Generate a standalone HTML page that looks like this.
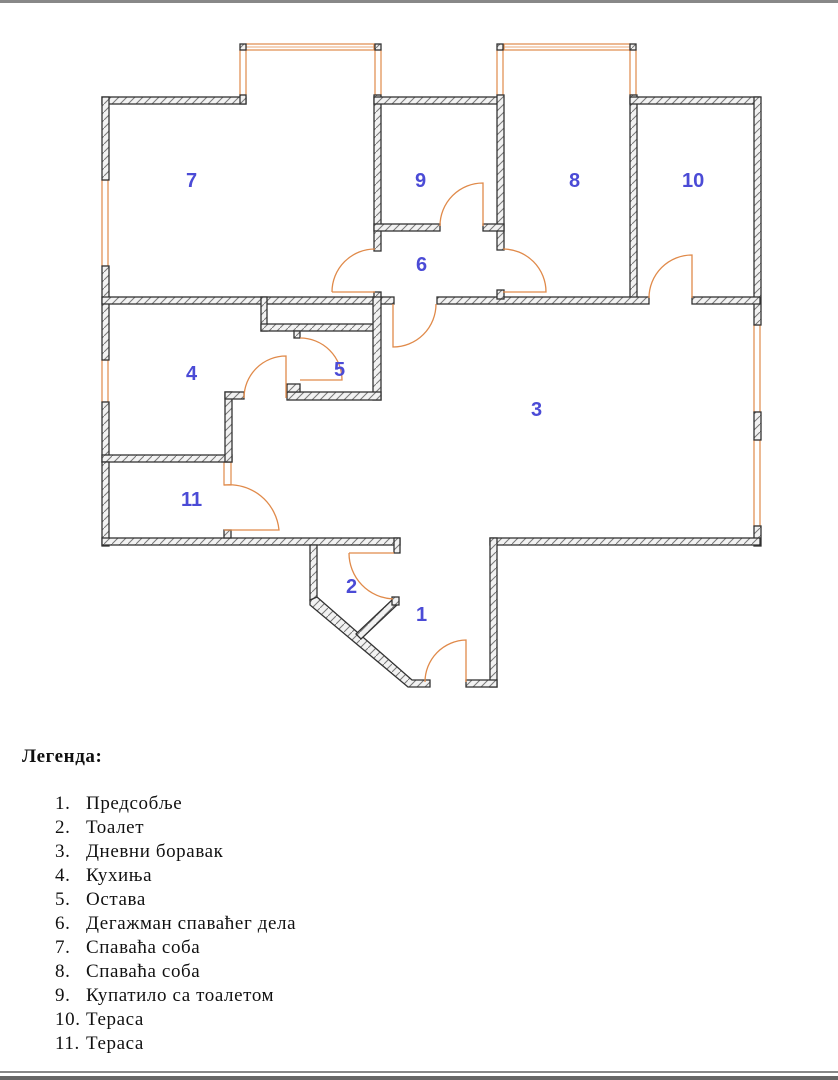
<!DOCTYPE html>
<html><head><meta charset="utf-8"><style>
body{margin:0;background:#fff;width:838px;height:1080px;overflow:hidden}
svg{position:absolute;left:0;top:0}
.w{fill:url(#h);stroke:#333;stroke-width:1.3}
.win{fill:#fff;stroke:#e08a4a;stroke-width:1.2}
.d{fill:none;stroke:#e08a4a;stroke-width:1.3}
.n{font-family:"Liberation Sans",sans-serif;font-size:20px;font-weight:bold;fill:#4b4bd6}
.lg{font-family:"Liberation Serif",serif;font-size:19px;letter-spacing:0.6px;fill:#111}
</style></head><body>
<svg width="838" height="1080" viewBox="0 0 838 1080">
<defs><pattern id="h" width="8" height="8" patternUnits="userSpaceOnUse">
<rect width="8" height="8" fill="#f2f2f2"/><path d="M0 8L8 0" stroke="#777" stroke-width="1"/></pattern></defs>
<rect x="0" y="0" width="838" height="3" fill="#888"/>
<rect x="0" y="1071" width="838" height="2" fill="#888"/><rect x="0" y="1076" width="838" height="4" fill="#666"/>
<!-- windows -->
<rect class="win" x="246" y="44" width="128" height="6"/><line x1="246" y1="47" x2="374" y2="47" stroke="#e08a4a" stroke-width="0.8"/>
<rect class="win" x="240" y="50" width="6" height="45"/>
<rect class="win" x="375" y="50" width="6" height="45"/>
<rect class="win" x="504" y="44" width="126" height="6"/><line x1="504" y1="47" x2="630" y2="47" stroke="#e08a4a" stroke-width="0.8"/>
<rect class="win" x="497" y="50" width="6" height="45"/>
<rect class="win" x="630" y="50" width="6" height="45"/>
<rect class="win" x="102" y="180" width="6" height="86"/>
<rect class="win" x="102" y="360" width="6" height="42"/>
<rect class="win" x="754" y="325" width="6" height="87"/>
<rect class="win" x="754" y="440" width="6" height="86"/>
<rect class="win" x="224" y="462" width="7" height="23"/>
<!-- walls -->
<rect class="w" x="240" y="44" width="6" height="6"/><rect class="w" x="375" y="44" width="6" height="6"/>
<rect class="w" x="497" y="44" width="6" height="6"/><rect class="w" x="630" y="44" width="6" height="6"/>
<rect class="w" x="102" y="97" width="144" height="7"/>
<rect class="w" x="240" y="95" width="6" height="9"/>
<rect class="w" x="102" y="97" width="7" height="83"/>
<rect class="w" x="102" y="266" width="7" height="94"/>
<rect class="w" x="102" y="402" width="7" height="60"/>
<rect class="w" x="374" y="95" width="7" height="156"/>
<rect class="w" x="374" y="97" width="129" height="7"/>
<rect class="w" x="497" y="95" width="7" height="155"/>
<rect class="w" x="374" y="224" width="66" height="7"/>
<rect class="w" x="483" y="224" width="21" height="7"/>
<rect class="w" x="630" y="95" width="7" height="205"/>
<rect class="w" x="630" y="97" width="130" height="7"/>
<rect class="w" x="754" y="97" width="7" height="228"/>
<rect class="w" x="754" y="412" width="7" height="28"/>
<rect class="w" x="754" y="526" width="7" height="20"/>
<rect class="w" x="102" y="297" width="292" height="7"/>
<rect class="w" x="437" y="297" width="212" height="7"/>
<rect class="w" x="692" y="297" width="68" height="7"/>
<rect class="w" x="374" y="292" width="7" height="8"/>
<rect class="w" x="497" y="290" width="7" height="9"/>
<rect class="w" x="261" y="297" width="6" height="34"/>
<rect class="w" x="261" y="324" width="113" height="7"/>
<rect class="w" x="373" y="297" width="8" height="103"/>
<rect class="w" x="287" y="392" width="94" height="8"/>
<rect class="w" x="287" y="384" width="13" height="8"/>
<rect class="w" x="294" y="331" width="6" height="7"/>
<rect class="w" x="102" y="455" width="130" height="7"/>
<rect class="w" x="225" y="392" width="7" height="70"/>
<rect class="w" x="225" y="392" width="19" height="7"/>
<rect class="w" x="102" y="462" width="7" height="84"/>
<rect class="w" x="102" y="538" width="298" height="7"/>
<rect class="w" x="224" y="530" width="7" height="8"/>
<rect class="w" x="394" y="538" width="6" height="15"/>
<rect class="w" x="490" y="538" width="270" height="7"/>
<rect class="w" x="490" y="538" width="7" height="149"/>
<rect class="w" x="466" y="680" width="31" height="7"/>
<rect class="w" x="310" y="545" width="7" height="55"/>
<polygon class="w" points="310,600 317,597 412,680 430,680 430,687 408,687 310,605"/>
<polygon class="w" points="356,634 393,599 398,604 361,639"/>
<rect class="w" x="392" y="597" width="7" height="8"/>
<!-- doors -->
<path class="d" d="M332 292 A43 43 0 0 1 375 249 M332 292 H375"/>
<path class="d" d="M393 304 V347 A43 43 0 0 0 436 304"/>
<path class="d" d="M440 226 A43 43 0 0 1 483 183 V226"/>
<path class="d" d="M503 292 H546 A43 43 0 0 0 503 249"/>
<path class="d" d="M649 298 A43 43 0 0 1 692 255 V298"/>
<path class="d" d="M244 398 A42 42 0 0 1 286 356 V398"/>
<path class="d" d="M300 338 A42 42 0 0 1 342 380 H300"/>
<path class="d" d="M224 485 A50 50 0 0 1 279 530 H224"/>
<path class="d" d="M349 553 H394 M349 553 A46 46 0 0 0 393 599"/>
<path class="d" d="M425 682 A42 42 0 0 1 466 640 V682"/>
<!-- labels -->
<text class="n" x="186" y="187">7</text>
<text class="n" x="415" y="187">9</text>
<text class="n" x="569" y="187">8</text>
<text class="n" x="682" y="187">10</text>
<text class="n" x="416" y="271">6</text>
<text class="n" x="186" y="380">4</text>
<text class="n" x="334" y="376">5</text>
<text class="n" x="531" y="416">3</text>
<text class="n" x="181" y="506">11</text>
<text class="n" x="346" y="593">2</text>
<text class="n" x="416" y="621">1</text>
<!-- legend -->
<text class="lg" x="22" y="762" font-weight="bold" style="font-size:19px">Легенда:</text>
<g class="lg">
<text x="55" y="809">1.</text><text x="86" y="809">Предсобље</text>
<text x="55" y="833">2.</text><text x="86" y="833">Тоалет</text>
<text x="55" y="857">3.</text><text x="86" y="857">Дневни боравак</text>
<text x="55" y="881">4.</text><text x="86" y="881">Кухиња</text>
<text x="55" y="905">5.</text><text x="86" y="905">Остава</text>
<text x="55" y="929">6.</text><text x="86" y="929">Дегажман спаваћег дела</text>
<text x="55" y="953">7.</text><text x="86" y="953">Спаваћа соба</text>
<text x="55" y="977">8.</text><text x="86" y="977">Спаваћа соба</text>
<text x="55" y="1001">9.</text><text x="86" y="1001">Купатило са тоалетом</text>
<text x="55" y="1025">10.</text><text x="86" y="1025">Тераса</text>
<text x="55" y="1049">11.</text><text x="86" y="1049">Тераса</text>
</g>
</svg>
</body></html>
